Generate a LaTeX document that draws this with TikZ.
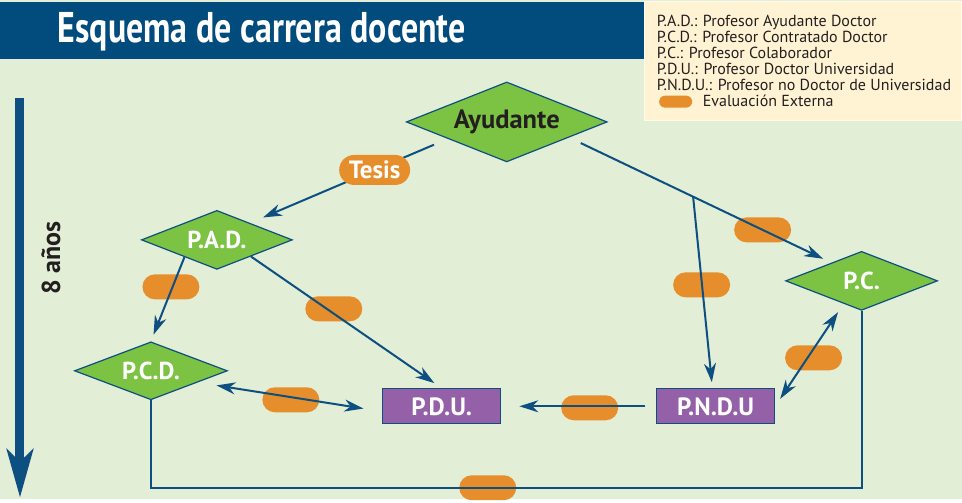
\documentclass[tikz,border=0pt]{standalone}
\usepackage{fontspec}
\setmainfont{PT Sans}
\newfontfamily\titlefont{PT Sans}[FakeStretch=0.79]
\usepackage{tikz}
\usetikzlibrary{positioning,shapes.geometric,arrows.meta,calc}

\definecolor{sheetGreen}{HTML}{E2EED6}
\definecolor{titleBlue}{HTML}{024C7D}
\definecolor{noteCream}{HTML}{FFF3D3}
\definecolor{lineBlue}{HTML}{0D4F80}
\definecolor{stageGreen}{HTML}{7CC243}
\definecolor{postPurple}{HTML}{9461A8}
\definecolor{evalOrange}{HTML}{E68E2B}
\definecolor{textDark}{HTML}{231F20}

\begin{document}
\begin{tikzpicture}[
        x=1pt, y=-1pt,
        >={Stealth[length=19pt,width=12pt,inset=6pt]},
        stage/.style={
            % The shape
            diamond,
            shape aspect=2.5,
            inner sep=0pt,
            % The border
            line width=1.2pt,
            draw = lineBlue,
            % The color
            fill = stageGreen,
            text = white,
            % Font
            font = \fontsize{24.5}{26}\selectfont\bfseries
        },
        post/.style={
            % The shape
            rectangle,
            minimum width=118pt,
            minimum height=35pt,
            inner sep=0pt,
            % The border
            line width=1.2pt,
            draw = lineBlue,
            % The color
            fill = postPurple,
            text = white,
            % Font
            font = \fontsize{25}{27}\selectfont\bfseries
        },
        evaluation/.style={
            % The shape
            rectangle,
            rounded corners=12.5pt,
            minimum width=57pt,
            minimum height=25pt,
            inner sep=0pt,
            % The color
            fill = evalOrange
        },
        tesis/.style={
            % The shape
            evaluation,
            rounded corners=15pt,
            minimum width=71pt,
            minimum height=30pt,
            % The color
            text = white,
            % Font
            font = \fontsize{25}{27}\selectfont\bfseries
        },
        note/.style={
            inner sep=0pt,
            anchor=base west,
            text = textDark,
            % Font
            font = \fontsize{16}{16}\selectfont
        },
        link/.style={
            line width=2pt,
            draw = lineBlue
        },
    ]
        % background, title bar and legend
        \fill[sheetGreen] (0,0) rectangle (962,499);
        \fill[titleBlue] (0,2) rectangle (645,59);
        \filldraw[fill=noteCream, draw=white!55!noteCream, line width=1pt] (645,2) rectangle (962,121);
        \node (title) [anchor=base, text=white, font=\titlefont\fontsize{43}{45}\selectfont\bfseries] at (262,43) {Esquema de carrera docente};

        \node (notePad) [note] at (657,26.7) {P.A.D.: Profesor Ayudante Doctor};
        \node (notePcd) [note] at (657,42.7) {P.C.D.: Profesor Contratado Doctor};
        \node (notePc) [note] at (657,58.7) {P.C.: Profesor Colaborador};
        \node (notePdu) [note] at (657,74.7) {P.D.U.: Profesor Doctor Universidad};
        \node (notePndu) [note] at (657,90.7) {P.N.D.U.: Profesor no Doctor de Universidad};
        \node (noteEvalPill) [evaluation, minimum width=33pt, minimum height=12pt, rounded corners=6pt] at (676,101.7) {};
        \node (noteEval) [note] at (703,106.7) {Evaluación Externa};

        % time axis
        \coordinate (timeStart) at (20,98);
        \coordinate (timeEnd) at (20,498);
        \draw[line width=9pt, draw=lineBlue, -{Stealth[length=48pt,width=26pt,inset=12pt]}] (timeStart) -- (timeEnd);
        \node (years) [rotate=90, text=textDark, font=\fontsize{26}{28}\selectfont\bfseries] at (51,258) {8 años};

        % stages
        \node (ayudante) [stage, minimum width=201pt, minimum height=80pt, text=textDark, font=\fontsize{26.5}{28}\selectfont\bfseries] at (507,122) {Ayudante};
        \node (pad) [stage, minimum width=151pt, minimum height=59pt] at (217,240) {P.A.D.};
        \node (pcd) [stage, minimum width=153pt, minimum height=58pt] at (151,371) {P.C.D.};
        \node (pc) [stage, minimum width=152pt, minimum height=59pt] at (862,281) {P.C.};
        \node (pdu) [post] at (442,406.5) {P.D.U.};
        \node (pndu) [post] at (716,406.5) {P.N.D.U};

        % external evaluations
        \node (evalPadPcd) [evaluation] at (171,287) {};
        \node (evalPadPdu) [evaluation] at (334,309) {};
        \node (evalPcdPdu) [evaluation] at (291,400) {};
        \node (evalPnduPdu) [evaluation] at (590,408) {};
        \node (evalAyudantePc) [evaluation] at (763,230) {};
        \node (evalAyudantePndu) [evaluation] at (702,285) {};
        \node (evalPcPndu) [evaluation] at (814,358) {};
        \node (evalPcdPc) [evaluation] at (488,488) {};

        % connectors
        \path (ayudante.196) edge[link,->,shorten <=15pt,shorten >=14pt] node[tesis,pos=0.37] {Tesis} (pad.27);
        \path (ayudante.346) edge[link,->,shorten <=13pt,shorten >=9pt] (pc.149);
        \coordinate (branch) at ($(ayudante.346)!0.473!(pc.149)$);
        \path (branch) edge[link,->,shorten >=6pt] (pndu.100);
        \path (pad.208) edge[link,->,shorten >=7pt] (pcd.north);
        \path (pad.334) edge[link,->,shorten >=9pt] (pdu.north);
        \path (pcd.346) edge[link,<->,shorten <=19pt,shorten >=19pt] (pdu.185);
        \path (pndu.west) edge[link,->,shorten <=11pt,shorten >=18pt] (pdu.east);
        \path (pc.232) edge[link,<->,shorten <=10pt,shorten >=9pt] (pndu.east);

        \coordinate (floor) at (0,488);
        \draw[link] (pcd.south) -- (pcd.south |- floor) -| (pc.south);

    \end{tikzpicture}
\end{document}
